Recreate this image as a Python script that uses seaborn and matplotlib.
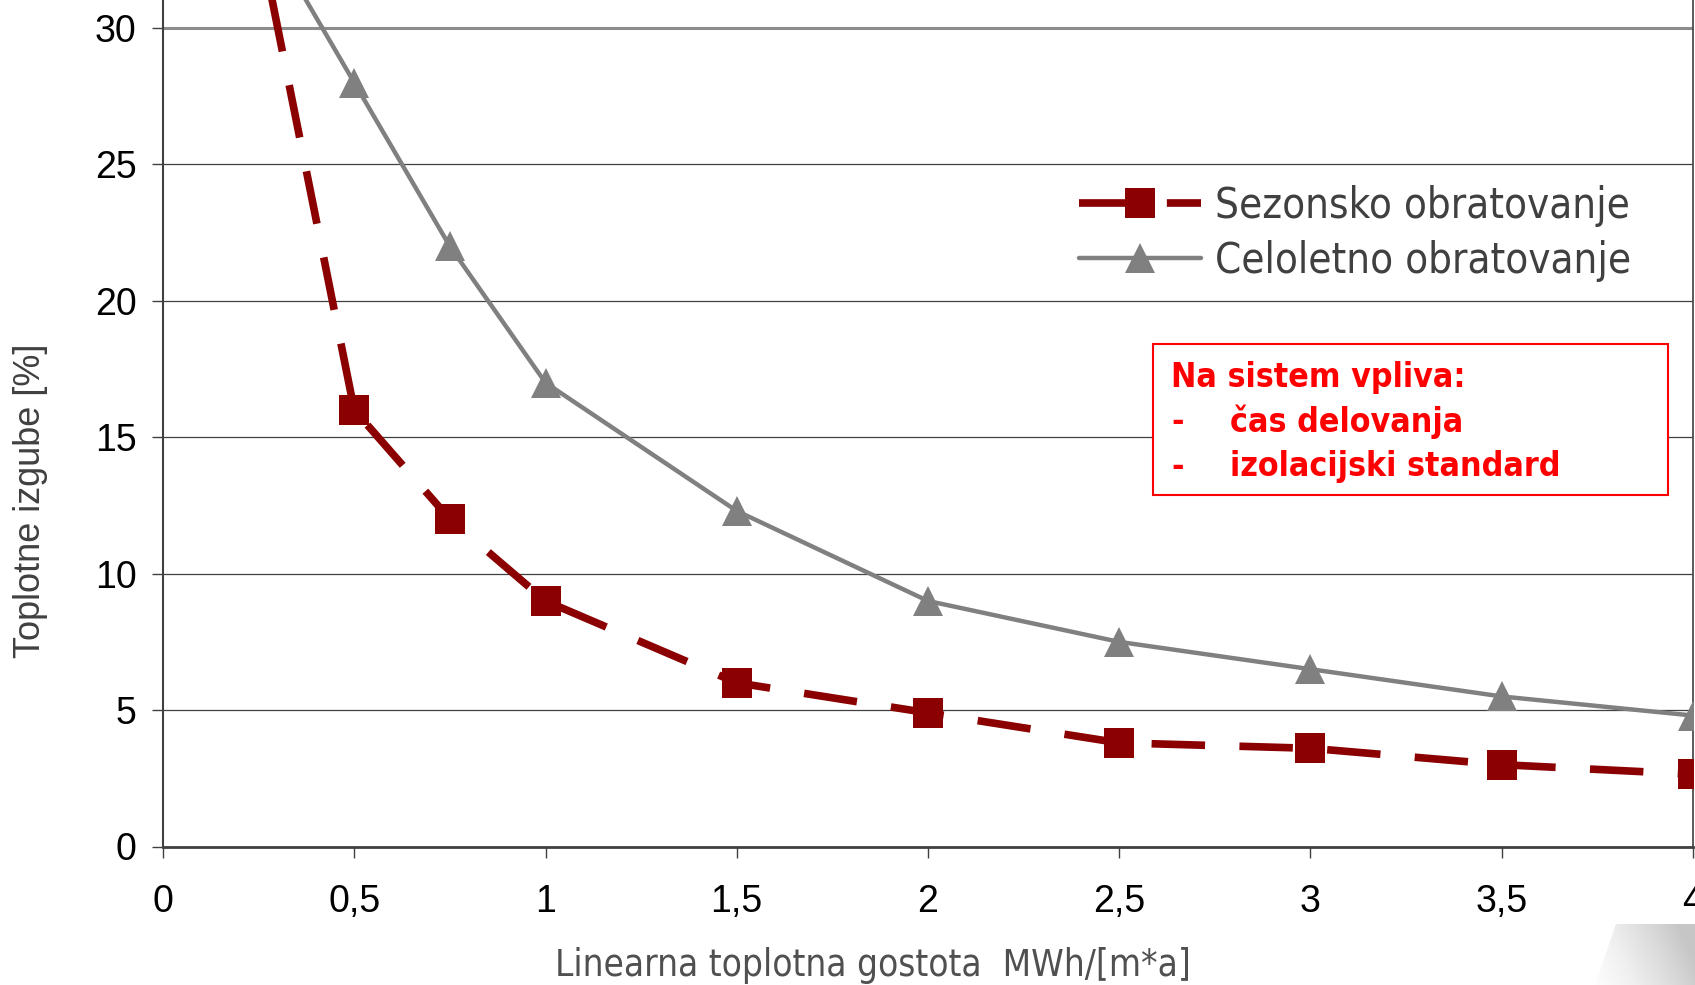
import matplotlib
matplotlib.use("Agg")
import matplotlib.pyplot as plt
import seaborn as sns
import numpy as np
import pandas as pd
from matplotlib.patches import Rectangle, Polygon
from matplotlib import font_manager

# ---- data ----
x_vals = [0.25, 0.5, 0.75, 1, 1.5, 2, 2.5, 3, 3.5, 4]
sezonsko = [33.5, 16, 12, 9, 6, 4.9, 3.8, 3.6, 3.0, 2.65]
celoletno = [34, 28, 22, 17, 12.3, 9, 7.5, 6.5, 5.5, 4.8]
series_names = ["Sezonsko obratovanje", "Celoletno obratovanje"]
x_ticks = [0, 0.5, 1, 1.5, 2, 2.5, 3, 3.5, 4]
x_tick_labels = ["0", "0,5", "1", "1,5", "2", "2,5", "3", "3,5", "4"]
y_ticks = [0, 5, 10, 15, 20, 25, 30]
y_tick_labels = ["0", "5", "10", "15", "20", "25", "30"]
x_label = "Linearna toplotna gostota  MWh/[m*a]"
y_label = "Toplotne izgube [%]"
note_title = "Na sistem vpliva:"
note_items = ["čas delovanja", "izolacijski standard"]

RED = "#8B0000"
GRAY = "#808080"

sns.set_theme(style="white")
plt.rcParams["font.family"] = ["Liberation Sans", "DejaVu Sans"]

installed = {f.name for f in font_manager.fontManager.ttflist}
narrow = "Liberation Sans Narrow" if "Liberation Sans Narrow" in installed else "Liberation Sans"
ylab_size = 28 if narrow == "Liberation Sans Narrow" else 26

W, H = 1695, 985
fig = plt.figure(figsize=(W / 100, H / 100), dpi=100)
ax = fig.add_axes([163 / W, 1 - 846.5 / H, 1530 / W, 846.5 / H])

df = pd.DataFrame({"x": x_vals, "sez": sezonsko, "cel": celoletno})

sns.lineplot(data=df, x="x", y="cel", ax=ax, color=GRAY, lw=3.2,
             marker="^", markersize=21, markeredgewidth=0, legend=False,
             zorder=4)
sns.lineplot(data=df, x="x", y="sez", ax=ax, color=RED, lw=5.5,
             marker="s", markersize=22, markeredgewidth=0, legend=False,
             linestyle=(0, (7, 4.5)), dash_capstyle="butt", zorder=5)

ax.set_xlim(0, 4)
ax.set_ylim(0, 31.03)

# gridlines
for yv in y_ticks[1:]:
    if yv == 30:
        ax.axhline(yv, color="#8c8c8c", lw=2.2, zorder=1)
    else:
        ax.axhline(yv, color="#404040", lw=0.9, zorder=1)

ax.set_xticks(x_ticks)
ax.set_xticklabels(x_tick_labels)
ax.set_yticks(y_ticks)
ax.set_yticklabels(y_tick_labels)
ax.tick_params(axis="both", which="both", direction="out", length=8, width=1,
               color="#404040", labelsize=27, labelcolor="black")
ax.tick_params(axis="y", pad=11, left=True)
ax.tick_params(axis="x", pad=19, bottom=True)

ax.spines["top"].set_visible(False)
ax.spines["left"].set_color("#404040")
ax.spines["left"].set_linewidth(1.5)
ax.spines["bottom"].set_color("#404040")
ax.spines["bottom"].set_linewidth(2)
ax.spines["right"].set_color("#404040")
ax.spines["right"].set_linewidth(1.2)

ax.set_xlabel(x_label, fontsize=26.5, color="#505050", family="DejaVu Sans",
              fontstretch="condensed")
ax.xaxis.label.set_va("center")
ax.xaxis.set_label_coords(0.464, -0.1405)
ax.set_ylabel(y_label, fontsize=ylab_size, color="#404040", family=narrow)
ax.yaxis.label.set_va("center")
ax.yaxis.set_label_coords(-0.0869, 0.409)

handles = [ax.lines[1], ax.lines[0]]
leg = ax.legend(handles, series_names, loc="upper left",
                bbox_to_anchor=(1079 / W, 1 - 185 / H),
                bbox_transform=fig.transFigure, frameon=False,
                handlelength=2.9, handletextpad=0.35, labelspacing=0.3,
                borderpad=0, borderaxespad=0, numpoints=1,
                labelcolor="#404040",
                prop=dict(family="DejaVu Sans", stretch="condensed", size=30.2))

# note box
fig.patches.append(Rectangle((1153 / W, 1 - 495 / H), 515 / W, 151 / H,
                             transform=fig.transFigure, facecolor="white",
                             edgecolor="#ff0000", lw=1.5, zorder=6))
tkw = dict(color="#ff0000", fontsize=24.3, fontweight="bold", family="DejaVu Sans",
           fontstretch="condensed", va="center", ha="left", zorder=7)
fig.text(1171 / W, 1 - 377 / H, note_title, **tkw)
for i, item in enumerate(note_items):
    yy = 1 - (422 + 44.5 * i) / H
    fig.text(1171 / W, yy, "-", **tkw)
    fig.text(1230 / W, yy, item, **tkw)

# page-curl shading in the bottom-right corner
cax = fig.add_axes([1590 / W, 0, 105 / W, 75 / H])
cax.set_axis_off()
gx = np.linspace(0, 1, 200)
gy = np.linspace(0, 1, 150)
GX, GY = np.meshgrid(gx, gy)
grad = np.clip(GX * 0.9 + (1 - GY) * 0.3, 0, 1)
im = cax.imshow(grad, cmap="Greys", vmin=0, vmax=3.0, extent=(0, 1, 0, 1),
                aspect="auto", origin="upper")
curl = Polygon([(0.25, 0.82), (1.0, 0.82), (1.0, 0.0), (0.05, 0.0)],
               closed=True, transform=cax.transAxes)
im.set_clip_path(curl)
cax.set_xlim(0, 1)
cax.set_ylim(0, 1)

fig.savefig("out.png", dpi=100)
